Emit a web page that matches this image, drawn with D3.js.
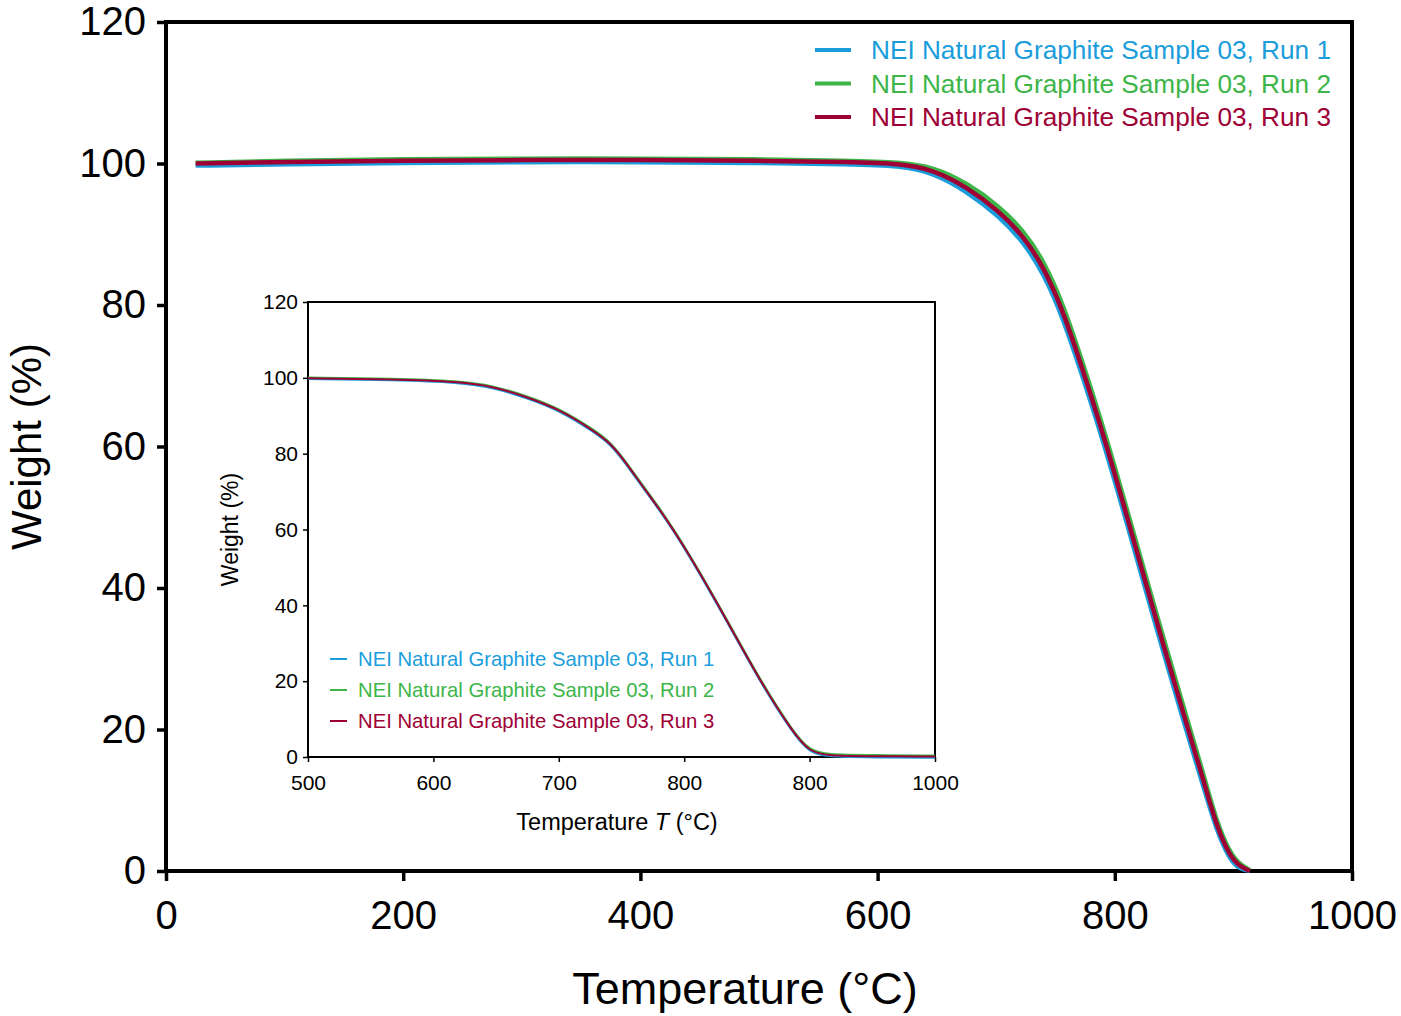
<!DOCTYPE html>
<html>
<head>
<meta charset="utf-8">
<script src="https://cdn.jsdelivr.net/npm/d3@7"></script>
<style>
  body { margin: 0; background: #fff; }
  svg text { font-family: "Liberation Sans", Arial, sans-serif; }
</style>
</head>
<body>
<svg id="chart"></svg>
<script>
var width = 1401;
var height = 1016;

// ---------------------------------------------------------------------------
// data
// ---------------------------------------------------------------------------
var seriesNames = [
  "NEI Natural Graphite Sample 03, Run 1",
  "NEI Natural Graphite Sample 03, Run 2",
  "NEI Natural Graphite Sample 03, Run 3"
];
var seriesColors = ["#1b9ddb", "#3db549", "#9e0036"];

// main plot
var mainTemp = [25, 100, 200, 300, 400, 500, 577, 619, 647, 675, 703, 723, 740, 757, 773, 790, 810, 830, 858, 875, 886, 897, 905, 914];
var mainRun1 = [99.7, 99.9, 100.1, 100.2, 100.2, 100.1, 99.9, 99.7, 98.7, 96.1, 92.5, 88.9, 84.5, 77.9, 69.8, 60.9, 49.3, 37.3, 21.1, 11.8, 5.6, 1.6, 0.3, 0.0];
var mainRun2 = [100.1, 100.4, 100.6, 100.7, 100.7, 100.6, 100.4, 100.2, 99.5, 97.3, 93.9, 90.5, 86.3, 79.9, 71.8, 62.9, 51.3, 39.3, 23.1, 13.6, 6.8, 2.6, 1.0, 0.1];
var mainRun3 = [100.0, 100.2, 100.4, 100.5, 100.5, 100.4, 100.2, 100.0, 99.1, 96.7, 93.2, 89.7, 85.4, 78.9, 70.8, 61.9, 50.3, 38.3, 22.1, 12.7, 6.2, 2.1, 0.7, 0.0];

// inset plot
var insetTemp = [500, 568, 621, 648, 674, 701, 727, 741, 754, 767, 781, 802, 834, 860, 887, 900, 914, 950, 1000];
var insetRun1 = [99.7, 99.4, 98.8, 97.4, 94.7, 91.3, 85.9, 82.6, 77.1, 71.0, 64.8, 54.3, 35.8, 20.0, 6.0, 1.1, 0.0, -0.1, -0.2];
var insetRun2 = [100.1, 99.8, 99.2, 97.9, 95.3, 91.9, 86.5, 83.2, 77.7, 71.6, 65.4, 54.9, 36.4, 20.6, 6.6, 1.7, 0.6, 0.5, 0.4];
var insetRun3 = [99.9, 99.6, 99.0, 97.7, 95.0, 91.6, 86.2, 82.9, 77.4, 71.3, 65.1, 54.6, 36.1, 20.3, 6.3, 1.4, 0.3, 0.2, 0.1];

var mainXTicks = [0, 200, 400, 600, 800, 1000];
var mainYTicks = [0, 20, 40, 60, 80, 100, 120];
var insetXTicks = [500, 600, 700, 800, 900, 1000];
var insetXTickLabels = ["500", "600", "700", "800", "800", "1000"];
var insetYTicks = [0, 20, 40, 60, 80, 100, 120];

var mainRuns = [mainRun1, mainRun2, mainRun3];
var insetRuns = [insetRun1, insetRun2, insetRun3];

// ---------------------------------------------------------------------------
// setup
// ---------------------------------------------------------------------------
var svg = d3.select("#chart")
    .attr("width", width)
    .attr("height", height);

var main = {left: 166, right: 1352, top: 22, bottom: 871};
var inset = {left: 308, right: 935, top: 302, bottom: 757};

var x = d3.scaleLinear().domain([0, 1000]).range([main.left, main.right]);
var y = d3.scaleLinear().domain([0, 120]).range([main.bottom, main.top]);
var xi = d3.scaleLinear().domain([500, 1000]).range([inset.left, inset.right]);
var yi = d3.scaleLinear().domain([0, 120]).range([inset.bottom, inset.top]);

// ---------------------------------------------------------------------------
// main axes
// ---------------------------------------------------------------------------
var gx = svg.append("g")
    .attr("transform", "translate(0," + main.bottom + ")")
    .call(d3.axisBottom(x).tickValues(mainXTicks).tickSize(10).tickPadding(20).tickFormat(d3.format("d")));
var gy = svg.append("g")
    .attr("transform", "translate(" + main.left + ",0)")
    .call(d3.axisLeft(y).tickValues(mainYTicks).tickSize(9).tickPadding(11).tickFormat(d3.format("d")));

[gx, gy].forEach(function(g) {
  g.select(".domain").remove();
  g.selectAll(".tick line").attr("stroke", "#000").attr("stroke-width", 3.5);
  g.selectAll(".tick text").attr("fill", "#000").style("font-size", "40px");
});

svg.append("rect")
    .attr("x", main.left)
    .attr("y", main.top)
    .attr("width", main.right - main.left)
    .attr("height", main.bottom - main.top)
    .attr("fill", "none")
    .attr("stroke", "#000")
    .attr("stroke-width", 4);

svg.append("text")
    .attr("transform", "translate(41," + ((main.top + main.bottom) / 2) + ") rotate(-90)")
    .attr("text-anchor", "middle")
    .style("font-size", "42px")
    .text("Weight (%)");

svg.append("text")
    .attr("x", 745)
    .attr("y", 1004)
    .attr("text-anchor", "middle")
    .style("font-size", "45px")
    .text("Temperature (°C)");

// main curves
var mainLine = d3.line()
    .x(function(d, i) { return x(mainTemp[i]); })
    .y(function(d) { return y(d); })
    .curve(d3.curveBasis);

mainRuns.forEach(function(run, k) {
  svg.append("path")
      .datum(run)
      .attr("d", mainLine)
      .attr("fill", "none")
      .attr("stroke", seriesColors[k])
      .attr("stroke-width", 4.5);
});

// main legend
seriesNames.forEach(function(name, k) {
  var ly = 50 + k * 33.5;
  svg.append("line")
      .attr("x1", 815).attr("x2", 851)
      .attr("y1", ly).attr("y2", ly)
      .attr("stroke", seriesColors[k])
      .attr("stroke-width", 4);
  svg.append("text")
      .attr("x", 871)
      .attr("y", ly + 9)
      .attr("fill", seriesColors[k])
      .style("font-size", "26.2px")
      .text(name);
});

// ---------------------------------------------------------------------------
// inset
// ---------------------------------------------------------------------------
var inG = svg.append("g");

inG.append("rect")
    .attr("x", inset.left)
    .attr("y", inset.top)
    .attr("width", inset.right - inset.left)
    .attr("height", inset.bottom - inset.top)
    .attr("fill", "#fff")
    .attr("stroke", "#000")
    .attr("stroke-width", 2);

var gxi = inG.append("g")
    .attr("transform", "translate(0," + inset.bottom + ")")
    .call(d3.axisBottom(xi).tickValues(insetXTicks).tickSize(5).tickPadding(13)
      .tickFormat(function(d, i) { return insetXTickLabels[i]; }));
var gyi = inG.append("g")
    .attr("transform", "translate(" + inset.left + ",0)")
    .call(d3.axisLeft(yi).tickValues(insetYTicks).tickSize(5).tickPadding(5).tickFormat(d3.format("d")));

[gxi, gyi].forEach(function(g) {
  g.select(".domain").remove();
  g.selectAll(".tick line").attr("stroke", "#000").attr("stroke-width", 1.5);
  g.selectAll(".tick text").attr("fill", "#000").style("font-size", "21px");
});

var insetTitle = inG.append("text")
    .attr("x", 617)
    .attr("y", 830)
    .attr("text-anchor", "middle")
    .style("font-size", "23.5px");
insetTitle.append("tspan").text("Temperature ");
insetTitle.append("tspan").style("font-style", "italic").text("T");
insetTitle.append("tspan").text(" (°C)");

inG.append("text")
    .attr("transform", "translate(238," + ((inset.top + inset.bottom) / 2) + ") rotate(-90)")
    .attr("text-anchor", "middle")
    .style("font-size", "23px")
    .text("Weight (%)");

var insetLine = d3.line()
    .x(function(d, i) { return xi(insetTemp[i]); })
    .y(function(d) { return yi(d); })
    .curve(d3.curveBasis);

insetRuns.forEach(function(run, k) {
  inG.append("path")
      .datum(run)
      .attr("d", insetLine)
      .attr("fill", "none")
      .attr("stroke", seriesColors[k])
      .attr("stroke-width", 2);
});

seriesNames.forEach(function(name, k) {
  var ly = 659 + k * 31;
  inG.append("line")
      .attr("x1", 330).attr("x2", 347)
      .attr("y1", ly).attr("y2", ly)
      .attr("stroke", seriesColors[k])
      .attr("stroke-width", 2);
  inG.append("text")
      .attr("x", 358)
      .attr("y", ly + 7)
      .attr("fill", seriesColors[k])
      .style("font-size", "20.3px")
      .text(name);
});
</script>
</body>
</html>
